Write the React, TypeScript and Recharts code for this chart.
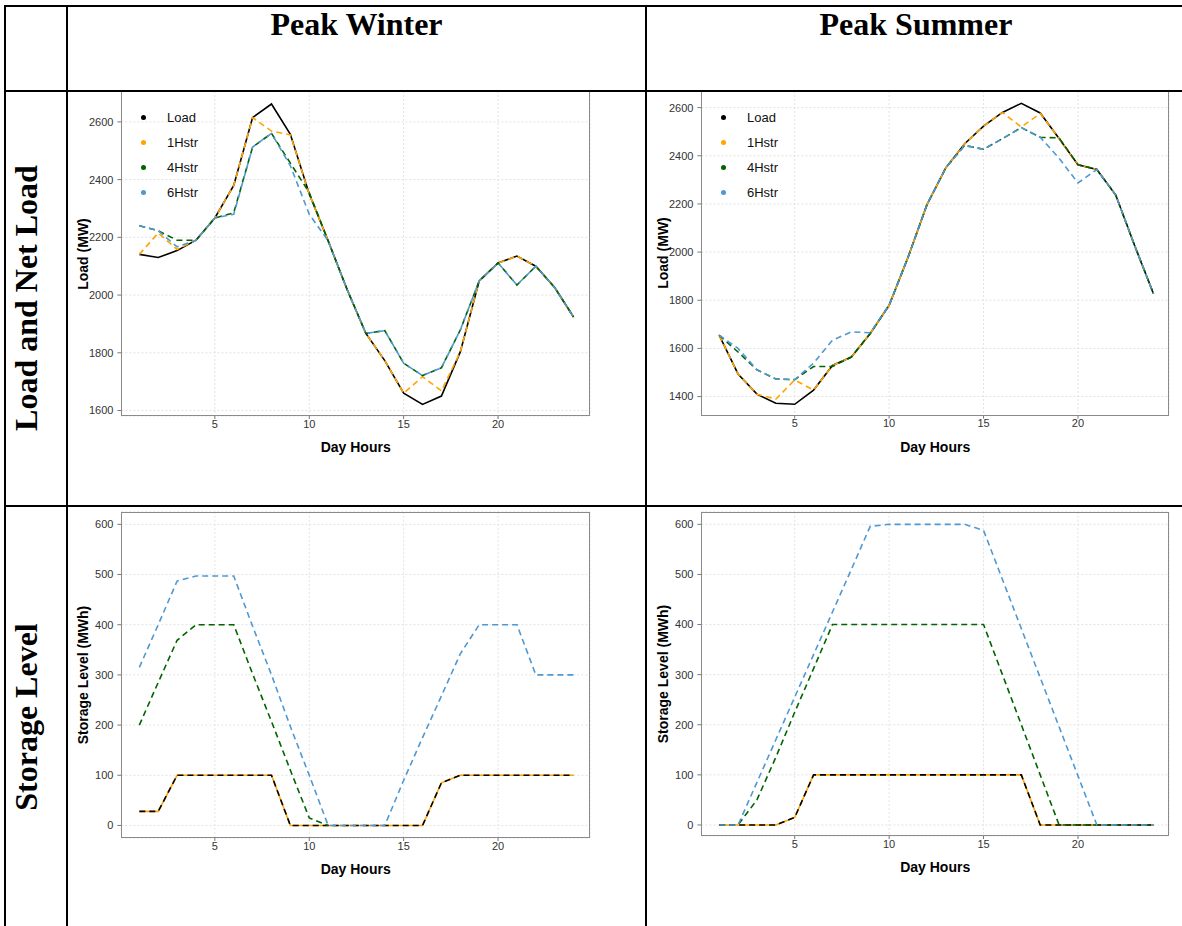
import React from 'react';
import { LineChart, Line, XAxis, YAxis, CartesianGrid, Legend } from 'recharts';

// hours of the day
const hours = [1, 2, 3, 4, 5, 6, 7, 8, 9, 10, 11, 12, 13, 14, 15, 16, 17, 18, 19, 20, 21, 22, 23, 24];
const hourTicks = [5, 10, 15, 20];

// Peak winter - load and net load (MW)
const winterLoad = [2141, 2130, 2154, 2190, 2267, 2380, 2615, 2662, 2557, 2350, 2188, 2020, 1867, 1773, 1660, 1621, 1650, 1803, 2049, 2111, 2135, 2100, 2026, 1924];
const winter1H = [2141, 2215, 2158, 2190, 2267, 2380, 2615, 2568, 2555, 2350, 2188, 2020, 1867, 1773, 1660, 1717, 1668, 1803, 2049, 2111, 2135, 2100, 2026, 1924];
const winter4H = [2240, 2223, 2190, 2190, 2267, 2285, 2513, 2560, 2457, 2355, 2188, 2020, 1867, 1877, 1764, 1721, 1748, 1879, 2049, 2111, 2035, 2100, 2026, 1924];
const winter6H = [2240, 2223, 2167, 2190, 2267, 2280, 2513, 2560, 2448, 2280, 2188, 2020, 1867, 1877, 1764, 1721, 1748, 1879, 2049, 2111, 2035, 2100, 2026, 1924];

// Peak summer - load and net load (MW)
const summerLoad = [1655, 1494, 1410, 1372, 1368, 1427, 1529, 1564, 1662, 1779, 1978, 2196, 2350, 2450, 2523, 2580, 2618, 2578, 2472, 2363, 2343, 2237, 2027, 1827];
const summer1H = [1655, 1494, 1410, 1389, 1469, 1427, 1529, 1564, 1662, 1779, 1978, 2196, 2350, 2450, 2523, 2580, 2519, 2576, 2472, 2363, 2343, 2237, 2027, 1827];
const summer4H = [1655, 1585, 1511, 1473, 1470, 1525, 1525, 1564, 1662, 1779, 1978, 2196, 2350, 2443, 2427, 2471, 2517, 2477, 2474, 2363, 2343, 2237, 2027, 1827];
const summer6H = [1655, 1600, 1511, 1473, 1470, 1539, 1634, 1669, 1665, 1779, 1978, 2196, 2350, 2443, 2427, 2471, 2517, 2477, 2390, 2287, 2343, 2237, 2027, 1827];

// storage level (MWh); null = not drawn
const winterS1 = [28, 28, 100, 100, 100, 100, 100, 100, 0, 0, 0, 0, 0, 0, 0, 0, 85, 100, 100, 100, 100, 100, 100, 100];
const winterS4 = [200, 285, 369, 400, 400, 400, 302, 207, 110, 15, 0, null, null, null, null, null, null, null, null, null, null, null, null, null];
const winterS6 = [315, 400, 487, 497, 497, 497, 397, 300, 197, 100, 0, 0, 0, 0, 90, 175, 258, 342, 400, 400, 400, 300, 300, 300];

const summerS1 = [0, 0, 0, 0, 15, 100, 100, 100, 100, 100, 100, 100, 100, 100, 100, 100, 100, 0, 0, 0, 0, 0, 0, 0];
const summerS4 = [0, 0, 50, 135, 225, 312, 400, 400, 400, 400, 400, 400, 400, 400, 400, 300, 200, 100, 0, 0, 0, 0, 0, 0];
const summerS6 = [0, 0, 85, 170, 255, 340, 425, 510, 596, 600, 600, 600, 600, 600, 588, 490, 392, 294, 196, 98, 0, 0, 0, 0];

const loadTicks = [1600, 1800, 2000, 2200, 2400, 2600];
const summerLoadTicks = [1400, 1600, 1800, 2000, 2200, 2400, 2600];
const storageTicks = [0, 100, 200, 300, 400, 500, 600];
const legendOrder = ['Load', '1Hstr', '4Hstr', '6Hstr'];

const SANS = "'Liberation Sans', Arial, sans-serif";
const SERIF = "'Liberation Serif', 'Times New Roman', serif";
const ORANGE = '#ffa500';
const GREEN = '#006400';
const BLUE = '#4f98d2';
const DASH = '6 4';

const rows = (a: (number | null)[], b: (number | null)[], c: (number | null)[], d: (number | null)[]) =>
  hours.map((h, i) => ({ hour: h, load: a[i], h1: b[i], h4: c[i], h6: d[i] }));

type SeriesDef = { key: string; name: string; color: string; dash?: string };

const loadSeries: SeriesDef[] = [
  { key: 'load', name: 'Load', color: '#000000' },
  { key: 'h1', name: '1Hstr', color: ORANGE, dash: DASH },
  { key: 'h4', name: '4Hstr', color: GREEN, dash: DASH },
  { key: 'h6', name: '6Hstr', color: BLUE, dash: DASH },
];

// storage: orange solid with black dashes on top
const storageSeries: SeriesDef[] = [
  { key: 'h1', name: '1Hstr', color: ORANGE },
  { key: 'load', name: 'Load', color: '#000000', dash: DASH },
  { key: 'h4', name: '4Hstr', color: GREEN, dash: DASH },
  { key: 'h6', name: '6Hstr', color: BLUE, dash: DASH },
];

const renderLegend = (props: any) => {
  const items = [...(props.payload || [])].sort(
    (a: any, b: any) => legendOrder.indexOf(a.value) - legendOrder.indexOf(b.value)
  );
  return (
    <div style={{ fontFamily: SANS, fontSize: 13, color: '#111' }}>
      {items.map((p: any) => (
        <div key={p.value} style={{ display: 'flex', alignItems: 'center', height: 25 }}>
          <span style={{ display: 'inline-block', width: 5, height: 5, borderRadius: '50%', background: p.color, marginLeft: 1 }} />
          <span style={{ marginLeft: 21 }}>{p.value}</span>
        </div>
      ))}
    </div>
  );
};

interface PanelProps {
  left: number;
  top: number;
  x0: number;
  x1: number;
  y0: number;
  y1: number;
  xDomain: [number, number];
  yDomain: [number, number];
  yTicks: number[];
  yLabel: string;
  data: any[];
  series: SeriesDef[];
  legend?: boolean;
}

const Panel: React.FC<PanelProps> = ({ left, top, x0, x1, y0, y1, xDomain, yDomain, yTicks, yLabel, data, series, legend }) => {
  const axisH = 30;
  const width = x1 - left + 5;
  const height = y1 - top + axisH + 5;
  const tickStyle = { fontSize: 11, fill: '#333', fontFamily: SANS };
  return (
    <>
      <div style={{ position: 'absolute', left, top }}>
        <LineChart width={width} height={height} data={data} margin={{ top: y0 - top, right: 5, bottom: 5, left: 0 }}>
          <CartesianGrid stroke="#e2e2e2" strokeDasharray="2 2" />
          <XAxis
            dataKey="hour"
            type="number"
            domain={xDomain}
            ticks={hourTicks}
            allowDataOverflow
            interval={0}
            height={axisH}
            axisLine={false}
            tickSize={3}
            tickMargin={1}
            tickLine={{ stroke: '#777' }}
            tick={tickStyle}
          />
          <YAxis
            type="number"
            domain={yDomain}
            ticks={yTicks}
            allowDataOverflow
            interval={0}
            width={x0 - left}
            axisLine={false}
            tickSize={4}
            tickMargin={4}
            tickLine={{ stroke: '#777' }}
            tick={tickStyle}
          />
          {series.map((s) => (
            <Line
              key={s.name + s.key}
              dataKey={s.key}
              name={s.name}
              stroke={s.color}
              strokeWidth={1.6}
              strokeDasharray={s.dash}
              dot={false}
              isAnimationActive={false}
            />
          ))}
          {legend && (
            <Legend
              layout="vertical"
              align="center"
              verticalAlign="middle"
              content={renderLegend}
              wrapperStyle={{ left: 70, top: 14, width: 120, height: 100 }}
            />
          )}
        </LineChart>
      </div>
      <div style={{ position: 'absolute', left: x0, top: y0, width: x1 - x0, height: y1 - y0, border: '1px solid #8a8a8a', boxSizing: 'border-box', pointerEvents: 'none' }} />
      <div style={{ position: 'absolute', left: (x0 + x1) / 2, top: y1 + 31, transform: 'translate(-50%, -50%)', fontFamily: SANS, fontWeight: 'bold', fontSize: 14, whiteSpace: 'nowrap', color: '#000' }}>
        Day Hours
      </div>
      <div style={{ position: 'absolute', left: x0 - 38.7, top: (y0 + y1) / 2, transform: 'translate(-50%, -50%) rotate(-90deg)', fontFamily: SANS, fontWeight: 'bold', fontSize: 14, whiteSpace: 'nowrap', color: '#000', lineHeight: 1 }}>
        {yLabel}
      </div>
    </>
  );
};

const line = (l: number, t: number, w: number, h: number) => (
  <div style={{ position: 'absolute', left: l, top: t, width: w, height: h, background: '#000' }} />
);

export default function App() {
  return (
    <div style={{ position: 'absolute', left: 0, top: 0, width: 1182, height: 926, background: '#fff', overflow: 'hidden' }}>
      <Panel left={70} top={91} x0={121.4} x1={590} y0={91} y1={416} xDomain={[0.05, 24.87]} yDomain={[1581, 2707]} yTicks={loadTicks} yLabel="Load (MW)" data={rows(winterLoad, winter1H, winter4H, winter6H)} series={loadSeries} legend />
      <Panel left={650} top={91} x0={701.4} x1={1169} y0={91} y1={415.6} xDomain={[0.06, 24.82]} yDomain={[1321, 2669]} yTicks={summerLoadTicks} yLabel="Load (MW)" data={rows(summerLoad, summer1H, summer4H, summer6H)} series={loadSeries} legend />
      <Panel left={70} top={500} x0={121.4} x1={590} y0={511.8} y1={838} xDomain={[0.05, 24.87]} yDomain={[-25, 625]} yTicks={storageTicks} yLabel="Storage Level (MWh)" data={rows(winterS1, winterS1, winterS4, winterS6)} series={storageSeries} />
      <Panel left={650} top={500} x0={701.4} x1={1169} y0={511.8} y1={836} xDomain={[0.06, 24.82]} yDomain={[-22, 625]} yTicks={storageTicks} yLabel="Storage Level (MWh)" data={rows(summerS1, summerS1, summerS4, summerS6)} series={storageSeries} />

      {/* table frame */}
      {line(4, 5, 1178, 2)}
      {line(4, 90, 1178, 2)}
      {line(4, 505, 1178, 2)}
      {line(4, 5, 2, 921)}
      {line(66, 5, 2, 921)}
      {line(645, 5, 2, 921)}

      <div style={{ position: 'absolute', left: 67, width: 579, top: 8, textAlign: 'center', fontFamily: SERIF, fontWeight: 'bold', fontSize: 32, lineHeight: '32px' }}>
        Peak Winter
      </div>
      <div style={{ position: 'absolute', left: 647, width: 538, top: 8, textAlign: 'center', fontFamily: SERIF, fontWeight: 'bold', fontSize: 32, lineHeight: '32px' }}>
        Peak Summer
      </div>
      <div style={{ position: 'absolute', left: 26, top: 298, transform: 'translate(-50%, -50%) rotate(-90deg)', fontFamily: SERIF, fontWeight: 'bold', fontSize: 32, lineHeight: 1, whiteSpace: 'nowrap' }}>
        Load and Net Load
      </div>
      <div style={{ position: 'absolute', left: 26, top: 717, transform: 'translate(-50%, -50%) rotate(-90deg)', fontFamily: SERIF, fontWeight: 'bold', fontSize: 32, lineHeight: 1, whiteSpace: 'nowrap' }}>
        Storage Level
      </div>
    </div>
  );
}
